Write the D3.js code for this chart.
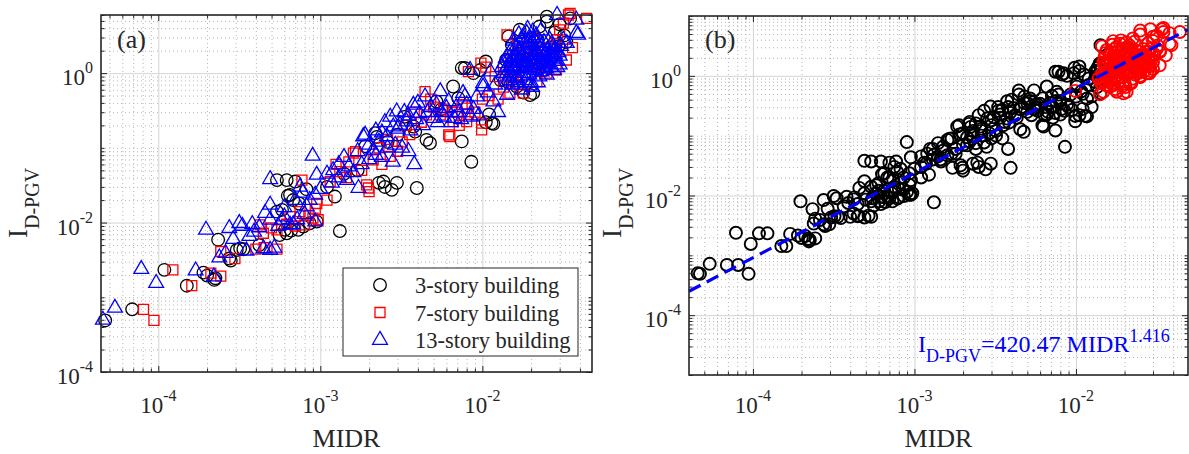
<!DOCTYPE html>
<html>
<head>
<meta charset="utf-8">
<script src="https://cdn.jsdelivr.net/npm/d3@7"></script>
<style>
body { margin: 0; background: #fff; }
text { font-family: "Liberation Serif", "Times New Roman", serif; fill: #262626; }
</style>
</head>
<body>
<svg id="chart" width="1189" height="454"></svg>
<script>
// [MIDR, I_D-PGV]
var story3 = [
  [4.7e-5,4.9e-4],[6.9e-5,6.9e-4],[1.09e-4,2.33e-3],[1.5e-4,1.43e-3],[1.9e-4,2.14e-3],[2.0e-4,1.95e-3],[2.22e-4,1.71e-3],[2.25e-4,1.8e-3],
  [2.34e-4,5.9e-3],[2.74e-4,3.3e-3],[2.8e-4,3.1e-3],[3.05e-4,4.3e-3],[3.2e-4,4.5e-3],[3.35e-4,4.4e-3],[4.2e-4,5.0e-3],
  [5.6e-4,6.8e-3],[6.2e-4,7.2e-3],[6.6e-4,7.8e-3],[7.3e-4,8.0e-3],[7.85e-4,8.85e-3],[8.6e-4,9.8e-3],[9.5e-4,1.03e-2],[6.05e-4,8.0e-3],
  [5.4e-4,0.014],[5.8e-4,0.0148],[6.3e-4,0.0228],[6.5e-4,0.0235],[6.8e-4,0.020],[7.4e-4,0.018],[7.0e-4,0.0354],[5.4e-4,0.037],[6.2e-4,0.037],[8.2e-4,0.028],
  [1.32e-3,7.7e-3],[1.23e-3,0.0223],[1.1e-3,0.03],[1.4e-3,0.045],[1.7e-3,0.05],
  [2.3e-3,0.034],[2.45e-3,0.0354],[2.5e-3,0.030],[2.76e-3,0.0274],[2.97e-3,0.034],[3.94e-3,0.029],
  [2.18e-3,0.157],[2.23e-3,0.140],[1.9e-3,0.105],[2.6e-3,0.12],[3.0e-3,0.15],[3.3e-3,0.26],[3.75e-3,0.193],[3.85e-3,0.165],[4.52e-3,0.128],[4.75e-3,0.116],
  [5.2e-3,0.417],[5.6e-3,0.33],[6.6e-3,0.662],[7.1e-3,0.463],[7.46e-3,0.122],[8.55e-3,0.065],
  [0.0105,0.22],[0.0114,0.214],[0.0117,0.21],[0.011,0.28],
  [7.46e-3,1.17],[7.8e-3,1.17],[8.8e-3,1.0],[9.7e-3,1.1],[0.0105,1.43],
  [0.0145,3.1],[0.0152,2.39],[0.0163,0.66],[0.0179,0.55],[0.0197,0.51],[0.0206,0.54],[0.013,0.8],
  [0.016,1.3],[0.018,1.9],[0.02,1.5],[0.022,2.79],[0.024,1.1],[0.026,2.2],[0.025,4.9],[0.025,5.7],[0.028,3.5],[0.0348,5.4],[0.033,2.6],
  [0.014,1.5],[0.015,1.1],[0.0165,1.8],[0.0185,1.3],[0.0195,2.2],[0.021,1.6],[0.023,1.4],[0.027,1.7],[0.0295,2.3],[0.0145,0.75],[0.017,3.8],[0.032,3.2],[0.03,4.5],[0.0225,4.2]
];
var story7 = [
  [8.1e-5,6.9e-4],[9.4e-5,4.9e-4],[1.23e-4,2.33e-3],[1.61e-4,1.43e-3],[2.11e-4,2.1e-3],[2.43e-4,1.92e-3],[2.43e-4,4.1e-3],[2.97e-4,3.3e-3],
  [4.0e-4,4.4e-3],[4.5e-4,4.6e-3],[5.4e-4,4.4e-3],[4.25e-4,9.3e-3],[4.45e-4,7.2e-3],[5.0e-4,8.5e-3],[5.4e-4,8.0e-3],[6.2e-4,9.5e-3],[7.0e-4,9.0e-3],[8.0e-4,9.3e-3],[9.0e-4,0.0115],
  [7.7e-4,0.037],[9.3e-4,0.0151],[9.7e-4,0.0109],[9.5e-4,0.018],[1.1e-3,0.020],[1.15e-3,0.0354],[1.32e-3,0.048],[1.45e-3,0.04],[1.6e-3,0.085],[1.65e-3,0.089],
  [1.93e-3,0.032],[1.98e-3,0.029],[2.0e-3,0.026],[2.12e-3,0.069],[2.4e-3,0.06],[2.7e-3,0.077],[3.0e-3,0.09],[3.56e-3,0.15],[3.2e-3,0.12],
  [4.43e-3,0.567],[4.52e-3,0.277],[5.0e-3,0.35],[5.5e-3,0.277],[6.2e-3,0.149],[6.3e-3,0.142],[6.6e-3,0.225],[7.0e-3,0.3],[8.0e-3,0.225],[8.0e-3,0.34],[8.2e-3,0.28],[9.9e-3,0.214],[9.9e-3,0.174],[0.01,0.45],
  [8.2e-3,1.05],[9.8e-3,1.36],[0.0105,1.2],[0.012,0.9],[0.0142,3.26],[0.0148,0.54],[0.0179,0.54],[0.0217,0.77],
  [0.016,1.1],[0.018,2.0],[0.02,1.3],[0.021,3.0],[0.023,1.7],[0.0267,1.85],[0.025,1.0],[0.028,2.5],[0.03,3.8],[0.0316,4.67],[0.034,6.0],[0.0348,6.3],[0.033,1.5],[0.036,2.2],[0.044,5.4],
  [2.3e-3,0.1],[2.6e-3,0.13],[3.4e-3,0.2],[3.8e-3,0.3],[4.2e-3,0.22],[4.8e-3,0.45],[5.8e-3,0.33],[6.5e-3,0.3],[7.2e-3,0.2],[7.5e-3,0.38],[9.0e-3,0.3],
  [1.25e-3,0.06],[1.5e-3,0.065],[1.8e-3,0.05],[6.5e-4,0.012],[7.5e-4,0.014],[8.5e-4,0.0125],[0.011,0.5],[0.0125,0.45],
  [0.0135,1.2],[0.015,1.5],[0.0165,2.5],[0.0175,1.3],[0.019,1.6],[0.021,2.0],[0.022,1.2],[0.024,2.2],[0.026,1.4],[0.0285,1.1],[0.029,2.8],[0.0155,0.9],[0.017,0.7],[0.0135,0.65]
];
var story13 = [
  [4.55e-5,5.0e-4],[5.4e-5,7.2e-4],[7.85e-5,2.38e-3],[9.7e-5,1.55e-3],[1.7e-4,2.28e-3],[2.2e-4,1.89e-3],[2.38e-4,3.4e-3],[2.6e-4,3.9e-3],
  [1.97e-4,8.0e-3],[2.74e-4,8.4e-3],[3.16e-4,9.8e-3],[3.3e-4,9.0e-3],[3.5e-4,4.2e-3],[3.65e-4,6.6e-3],[3.9e-4,7.5e-3],[4.45e-4,4.5e-3],[4.9e-4,4.3e-3],[5.2e-4,4.6e-3],
  [4.2e-4,8.6e-3],[4.56e-4,0.0134],[4.9e-4,0.0109],[4.9e-4,0.0173],[4.9e-4,0.038],[5.8e-4,0.0109],[6.0e-4,0.012],[6.5e-4,9.3e-3],[7.2e-4,0.011],[7.5e-4,0.030],[7.8e-4,0.025],[8.24e-4,0.0164],[8.6e-4,0.02],[9.3e-4,0.0235],[9.3e-4,0.0103],[9.5e-4,0.0435],[8.97e-4,0.078],
  [1.0e-3,0.028],[1.18e-3,0.034],[1.3e-3,0.04],[1.46e-3,0.037],[1.5e-3,0.056],[1.6e-3,0.047],[1.72e-3,0.029],[1.8e-3,0.06],[2.0e-3,0.07],[2.2e-3,0.08],[2.4e-3,0.075],[2.6e-3,0.1],[2.9e-3,0.11],[3.2e-3,0.1],[3.5e-3,0.09],[3.8e-3,0.06],[2.8e-3,0.065],
  [1.84e-3,0.142],[1.89e-3,0.149],[2.12e-3,0.094],[2.3e-3,0.12],[2.57e-3,0.142],[2.82e-3,0.193],[2.96e-3,0.306],[3.1e-3,0.203],[3.4e-3,0.225],[3.6e-3,0.17],[3.75e-3,0.376],[4.1e-3,0.29],[4.3e-3,0.2],[4.43e-3,0.486],[4.8e-3,0.35],[5.0e-3,0.25],[5.5e-3,0.57],[5.6e-3,0.3],[6.0e-3,0.34],[6.4e-3,0.22],[6.7e-3,0.25],[7.2e-3,0.3],[7.6e-3,0.54],[7.8e-3,0.486],[8.5e-3,0.26],[9.25e-3,0.486],[0.0101,0.66],[0.0117,0.417],[0.0125,0.3],
  [8.4e-3,1.1],[0.0101,0.73],[0.0112,1.05],[0.012,0.7],[0.0142,0.51],[0.0142,0.77],[0.0135,1.0],[0.0148,1.67],[0.0155,1.2],[0.0163,1.36],[0.0163,0.85],[0.017,2.1],[0.0175,1.6],[0.018,1.0],[0.0188,3.43],[0.019,1.3],[0.02,2.4],[0.02,0.75],[0.021,1.8],[0.0217,2.52],[0.022,1.15],[0.0235,2.0],[0.024,1.4],[0.025,1.5],[0.025,0.95],[0.026,2.8],[0.0276,1.1],[0.028,1.8],[0.0289,6.0],[0.03,1.3],[0.0316,2.79],[0.0332,2.52],[0.038,3.43],[0.038,5.17],[0.039,3.26],
  [0.0138,0.9],[0.0145,1.1],[0.015,0.8],[0.0152,1.45],[0.016,1.0],[0.0158,1.8],[0.0168,1.2],[0.0172,0.9],[0.0178,1.4],[0.0182,2.5],[0.0185,1.15],[0.019,1.75],[0.0195,0.95],[0.0198,2.9],[0.0205,1.25],[0.021,1.55],[0.0212,2.1],[0.0222,1.7],[0.0225,0.9],[0.023,2.3],[0.0238,1.25],[0.0245,1.8],[0.0255,1.3],[0.0262,1.6],[0.027,2.2],[0.0285,1.45],[0.0295,1.9],[0.0178,3.0],[0.0205,3.6],
  [2.5e-3,0.22],[2.7e-3,0.26],[3.0e-3,0.18],[3.3e-3,0.3],[3.5e-3,0.27],[3.9e-3,0.24],[4.0e-3,0.4],[4.6e-3,0.3],[5.2e-3,0.38],[5.3e-3,0.22],[5.8e-3,0.26],[6.2e-3,0.42],[6.9e-3,0.35],[7.4e-3,0.24],[8.0e-3,0.38],[8.8e-3,0.33],[9.5e-3,0.27],[0.0108,0.55],
  [1.3e-3,0.06],[1.4e-3,0.075],[1.7e-3,0.09],[2.0e-3,0.11],[2.2e-3,0.17],[2.4e-3,0.16],[1.2e-3,0.05],[1.1e-3,0.045],[6e-4,0.016],[7e-4,0.02],[8e-4,0.013],[5.5e-4,0.009],[6.8e-4,0.0095],[3.8e-4,0.0095],[2.9e-4,0.006],
  [0.0132,1.2],[0.0136,1.35],[0.014,1.6],[0.0143,1.25],[0.0147,0.95],[0.015,2.0],[0.0153,0.7],[0.0156,1.55],[0.0159,1.15],[0.0162,2.3],[0.0165,1.7],[0.0167,0.75],[0.017,1.45],[0.0173,2.8],[0.0176,1.2],[0.018,1.7],[0.0183,0.8],[0.0186,2.1],[0.0189,1.45],[0.0192,2.6],[0.0196,1.2],[0.02,1.9],[0.0203,0.65],[0.0207,2.9],[0.021,1.1],
  [0.0214,1.35],[0.0218,1.9],[0.0222,2.3],[0.0227,1.45],[0.0232,1.05],[0.0236,1.65],[0.024,2.6],[0.0248,1.15],[0.0252,2.0],[0.0258,1.7],[0.0265,1.2],[0.0268,2.5],[0.0275,1.55],[0.028,2.05],[0.029,1.2],[0.03,1.7],[0.0305,2.3],[0.0155,2.7],[0.0168,3.3],[0.019,3.9],[0.0215,3.2],[0.023,3.7],[0.0175,0.6],[0.0195,0.68],[0.022,0.75]
];
// points shown red in (b) although below the threshold
var extraRed = [[0.0099,0.56],[0.0141,0.49],[0.0142,0.77],[0.0138,0.9]];
var collapseMIDR = 0.0145;
var fitCoef = 420.47, fitExp = 1.416;
var xMajorExp = [-4, -3, -2];
var yMajorExp = [-4, -2, 0];
var legendLabels = ["3-story building", "7-story building", "13-story building"];

var svg = d3.select("#chart");
var ink = "#262626";

function minorValues(dom, majors) {
  var out = [], e, k, v;
  for (e = Math.floor(Math.log10(dom[0])); e <= Math.ceil(Math.log10(dom[1])); e++) {
    for (k = 1; k <= 9; k++) {
      v = k * Math.pow(10, e);
      if (v >= dom[0] && v <= dom[1] && majors.indexOf(v) < 0) out.push(v);
    }
  }
  return out;
}

function powText(sel, exp) {
  sel.append("tspan").text("10");
  sel.append("tspan").attr("dy", -12).attr("font-size", 16).text(exp);
}

function drawPanel(p) {
  var w = p.right - p.left, h = p.bottom - p.top,
    g = svg.append("g").attr("transform", "translate(" + p.left + "," + p.top + ")"),
    x = d3.scaleLog().domain(p.xDomain).range([0, w]),
    y = d3.scaleLog().domain(p.yDomain).range([h, 0]),
    xMaj = xMajorExp.map(function(e) { return Math.pow(10, e); }),
    yMaj = yMajorExp.map(function(e) { return Math.pow(10, e); }),
    xMin = minorValues(p.xDomain, xMaj),
    yMin = minorValues(p.yDomain, yMaj),
    clean = function(sel) { sel.select(".domain").remove(); sel.selectAll("text").remove(); };

  // grid
  g.append("g").attr("transform", "translate(0," + h + ")")
    .call(d3.axisBottom(x).tickValues(xMin).tickSize(-h)).call(clean)
    .selectAll("line").attr("stroke", "#b5b5b5").attr("stroke-dasharray", "1,3");
  g.append("g")
    .call(d3.axisLeft(y).tickValues(yMin).tickSize(-w)).call(clean)
    .selectAll("line").attr("stroke", "#b5b5b5").attr("stroke-dasharray", "1,3");
  g.append("g").attr("transform", "translate(0," + h + ")")
    .call(d3.axisBottom(x).tickValues(xMaj).tickSize(-h)).call(clean)
    .selectAll("line").attr("stroke", "#d4d4d4");
  g.append("g")
    .call(d3.axisLeft(y).tickValues(yMaj).tickSize(-w)).call(clean)
    .selectAll("line").attr("stroke", "#d4d4d4");

  p.marks(g, x, y);

  // ticks on all four sides, pointing inward
  [[d3.axisBottom, x, "translate(0," + h + ")", xMaj, xMin],
   [d3.axisTop, x, null, xMaj, xMin],
   [d3.axisLeft, y, null, yMaj, yMin],
   [d3.axisRight, y, "translate(" + w + ",0)", yMaj, yMin]].forEach(function(a) {
    [[a[3], -6], [a[4], -3.5]].forEach(function(t) {
      g.append("g").attr("transform", a[2])
        .call(a[0](a[1]).tickValues(t[0]).tickSize(t[1])).call(clean)
        .selectAll("line").attr("stroke", ink).attr("stroke-width", 1);
    });
  });
  g.append("rect").attr("width", w).attr("height", h)
    .attr("fill", "none").attr("stroke", ink).attr("stroke-width", 1.6);

  // tick labels
  xMaj.forEach(function(v, i) {
    g.append("text").attr("x", x(v)).attr("y", p.xLabelY - p.top)
      .attr("text-anchor", "middle").attr("font-size", 23)
      .call(powText, xMajorExp[i] === 0 ? "0" : String(xMajorExp[i]));
  });
  yMaj.forEach(function(v, i) {
    g.append("text").attr("x", -p.yLabelGap).attr("y", y(v) + 12)
      .attr("text-anchor", "end").attr("font-size", 23)
      .call(powText, yMajorExp[i] === 0 ? "0" : String(yMajorExp[i]));
  });

  // axis titles
  svg.append("text").attr("x", (p.left + p.right) / 2).attr("y", 447)
    .attr("text-anchor", "middle").attr("font-size", 26).text("MIDR");
  var yt = svg.append("text")
    .attr("transform", "translate(" + p.yTitleX + ",238) rotate(-90)")
    .attr("font-size", 27);
  yt.append("tspan").text("I");
  yt.append("tspan").attr("dy", 12).attr("font-size", 20).text("D-PGV");

  svg.append("text").attr("x", p.left + 16).attr("y", 48)
    .attr("font-size", 26).text(p.tag);
}

var circle = d3.symbol(d3.symbolCircle, 125),
  square = d3.symbol(d3.symbolSquare, 100),
  triangle = d3.symbol(d3.symbolTriangle, 95);

function scatter(g, x, y, data, sym, color, sw) {
  g.append("g").selectAll("path").data(data).join("path")
    .attr("transform", function(d) { return "translate(" + x(d[0]) + "," + y(d[1]) + ")"; })
    .attr("d", sym).attr("fill", "none").attr("stroke", color).attr("stroke-width", sw);
}

drawPanel({
  left: 101, right: 592, top: 15, bottom: 372,
  xDomain: [4.43e-5, 0.0475], yDomain: [1e-4, 6.0],
  xLabelY: 413, yLabelGap: 8, yTitleX: 27, tag: "(a)",
  marks: function(g, x, y) {
    scatter(g, x, y, story3, circle, "#000", 1.3);
    scatter(g, x, y, story7, square, "#ff0000", 1.3);
    scatter(g, x, y, story13, triangle, "#0000ff", 1.3);

    var lg = g.append("g").attr("transform", "translate(" + (343 - 101) + "," + (268 - 15) + ")");
    lg.append("rect").attr("width", 235).attr("height", 88)
      .attr("fill", "#fff").attr("stroke", ink).attr("stroke-width", 1);
    [[circle, "#000"], [square, "#ff0000"], [triangle, "#0000ff"]].forEach(function(s, i) {
      var cy = 17 + i * 27.5;
      lg.append("path").attr("transform", "translate(37," + cy + ")")
        .attr("d", s[0]).attr("fill", "none").attr("stroke", s[1]).attr("stroke-width", 1.3);
      lg.append("text").attr("x", 72).attr("y", cy + 8)
        .attr("font-size", 22.5).text(legendLabels[i]);
    });
  }
});

drawPanel({
  left: 689, right: 1188, top: 16, bottom: 375,
  xDomain: [4.02e-5, 0.0494], yDomain: [1e-5, 10],
  xLabelY: 413, yLabelGap: 8, yTitleX: 621, tag: "(b)",
  marks: function(g, x, y) {
    var all = story3.concat(story7, story13),
      bigCircle = d3.symbol(d3.symbolCircle, 115);
    scatter(g, x, y, all.filter(function(d) { return d[0] < collapseMIDR; }), bigCircle, "#000", 1.9);
    scatter(g, x, y, all.filter(function(d) { return d[0] >= collapseMIDR; }).concat(extraRed), bigCircle, "#ff0000", 1.9);

    var xs = x.domain();
    g.append("path")
      .datum(xs.map(function(v) { return [v, fitCoef * Math.pow(v, fitExp)]; }))
      .attr("d", d3.line().x(function(d) { return x(d[0]); }).y(function(d) { return y(d[1]); }))
      .attr("fill", "none").attr("stroke", "#0000ff").attr("stroke-width", 3.2)
      .attr("stroke-dasharray", "13,7");

    var eq = g.append("text").attr("x", 918 - 689).attr("y", 352 - 16)
      .attr("font-size", 24).style("fill", "#0000ff");
    eq.append("tspan").text("I");
    eq.append("tspan").attr("dy", 10).attr("font-size", 18).text("D-PGV");
    eq.append("tspan").attr("dy", -10).text("=" + fitCoef + " MIDR");
    eq.append("tspan").attr("dy", -10).attr("font-size", 18).text(fitExp);
  }
});
</script>
</body>
</html>
